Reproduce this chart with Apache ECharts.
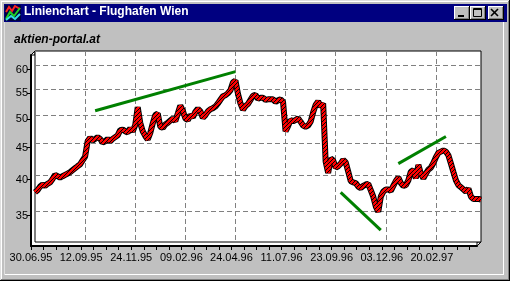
<!DOCTYPE html>
<html><head><meta charset="utf-8">
<script src="https://cdn.jsdelivr.net/npm/echarts@6/dist/echarts.min.js"></script>
<style>html,body{margin:0;padding:0;background:#c0c0c0;overflow:hidden}#chart{width:510px;height:281px}</style>
</head><body><div id="chart"></div>
<script>
// ---- data ----
const tickLabels = ['30.06.95','12.09.95','24.11.95','09.02.96','24.04.96','11.07.96','23.09.96','03.12.96','20.02.97'];
const yTicks = [35, 40, 45, 50, 55, 60];
const yRange = [31.3, 63.35];
const pointsPerTick = 20;
const prices = [
  37.6,37.9,38.4,38.7,38.5,38.8,39.0,39.5,40.1,39.9,
  39.7,39.9,40.1,40.3,40.5,40.8,41.1,41.4,41.7,42.3,
  42.9,45.4,46.0,45.5,45.8,46.1,45.8,45.2,45.4,45.8,
  45.4,45.8,46.1,46.4,47.3,47.4,47.1,46.9,47.6,47.1,
  48.2,51.5,48.6,47.1,46.3,45.7,46.8,48.5,50.0,50.3,
  47.9,47.7,48.3,48.6,49.0,49.4,48.9,50.3,51.8,50.8,
  49.4,49.1,50.0,49.6,50.6,51.2,50.7,49.5,50.0,50.7,
  51.1,51.3,51.6,52.2,52.9,53.6,53.8,54.2,54.8,56.4,
  56.8,54.1,52.2,51.0,51.7,52.1,52.9,53.7,53.9,53.1,
  53.3,53.3,52.9,53.0,53.0,53.0,52.5,52.8,53.0,52.5,
  47.1,48.0,49.1,48.9,49.1,49.4,48.8,48.1,47.9,48.1,
  48.8,50.5,51.9,52.6,51.6,52.2,42.1,40.4,42.6,42.3,
  41.2,41.4,41.8,42.4,42.0,40.6,39.2,39.0,38.9,38.4,
  38.2,38.5,38.7,38.8,37.9,37.0,35.7,35.0,37.0,37.7,
  38.0,38.0,37.8,38.5,39.2,39.7,38.9,38.5,38.6,39.3,
  40.6,40.8,39.6,41.6,40.3,39.6,40.3,40.9,41.2,41.9,
  42.8,43.5,43.7,43.9,43.7,43.1,41.8,40.5,39.3,38.6,
  38.3,38.0,37.7,38.1,37.0,36.7,36.7,36.7,36.6
];
const trendUp1 = [[24, 50.8], [80, 58.7]];
const trendDown = [[122, 37.6], [138, 32.7]];
const trendUp2 = [[145, 41.8], [164, 46.2]];

const categories = prices.map((_, i) => String(i));
const FONT = '"Liberation Sans", Arial, sans-serif';

// red ribbon with black hatching
const hatch = document.createElement('canvas');
hatch.width = 4; hatch.height = 4;
(function () {
  const c = hatch.getContext('2d');
  c.fillStyle = '#ff0000'; c.fillRect(0, 0, 4, 4);
  c.fillStyle = '#000000';
  c.fillRect(3, 0, 1, 1); c.fillRect(2, 1, 1, 1); c.fillRect(1, 2, 1, 1); c.fillRect(0, 3, 1, 1);
})();

// ---- window chrome helpers ----
const ln = (x1, y1, x2, y2, color, w) => ({type:'line', silent:true, shape:{x1, y1, x2, y2}, style:{stroke:color, lineWidth:w || 1}});
function button(x, y, w, h) {
  return [
    {type:'rect', silent:true, shape:{x, y, width:w, height:h}, style:{fill:'#c0c0c0'}},
    ln(x, y + 0.5, x + w - 1, y + 0.5, '#ffffff'),
    ln(x + 0.5, y, x + 0.5, y + h - 1, '#ffffff'),
    ln(x, y + h - 0.5, x + w, y + h - 0.5, '#000000'),
    ln(x + w - 0.5, y, x + w - 0.5, y + h, '#000000'),
    ln(x + 1, y + h - 1.5, x + w - 1, y + h - 1.5, '#808080'),
    ln(x + w - 1.5, y + 1, x + w - 1.5, y + h - 1, '#808080')
  ];
}
const chrome = [].concat(
  [
    ln(0, 0.5, 510, 0.5, '#dfdfdf'), ln(0.5, 0, 0.5, 281, '#dfdfdf'),
    ln(1, 1.5, 508, 1.5, '#ffffff'), ln(1.5, 1, 1.5, 280, '#ffffff'),
    ln(0, 280.5, 510, 280.5, '#000000'), ln(509.5, 0, 509.5, 281, '#000000'),
    ln(1, 279.5, 509, 279.5, '#808080'), ln(508.5, 1, 508.5, 280, '#808080'),
    {type:'rect', silent:true, shape:{x:4, y:4, width:503, height:18}, style:{fill:'#000080'}},
    // icon
    {type:'rect', silent:true, shape:{x:5, y:5, width:16, height:16}, style:{fill:'#000040'}},
    {type:'polyline', silent:true, shape:{points:[[6,12],[9,7],[12,11],[15,6],[20,9]]}, style:{stroke:'#ff2020', lineWidth:2, fill:null}},
    {type:'polyline', silent:true, shape:{points:[[6,19],[10,12],[14,16],[20,8]]}, style:{stroke:'#20d020', lineWidth:2, fill:null}},
    {type:'polyline', silent:true, shape:{points:[[6,20],[11,16],[15,19],[20,14]]}, style:{stroke:'#30e0e0', lineWidth:2, fill:null}},
    ln(4, 274.5, 504, 274.5, '#ffffff'),
    ln(503.5, 22, 503.5, 275, '#ffffff'),
    ln(4.5, 22, 4.5, 275, '#dfdfdf')
  ],
  button(454, 6, 16, 14), button(470, 6, 16, 14), button(488, 6, 16, 14),
  [
    {type:'rect', silent:true, shape:{x:458, y:15, width:6, height:2}, style:{fill:'#000'}},
    {type:'rect', silent:true, shape:{x:473.5, y:8.5, width:8, height:8}, style:{fill:null, stroke:'#000', lineWidth:1}},
    ln(473, 9.5, 482, 9.5, '#000'),
    ln(491, 9, 498, 16, '#000', 1.6), ln(498, 9, 491, 16, '#000', 1.6),
    // 3D corners of the plot box
    {type:'polygon', silent:true, shape:{points:[[31,55],[35,51],[35,55]]}, style:{fill:'#fff', stroke:'#000', lineWidth:1}},
    {type:'polygon', silent:true, shape:{points:[[477,246],[481,242],[477,242]]}, style:{fill:'#fff', stroke:'#000', lineWidth:1}}
  ]
);

const gridLine = {show:true, lineStyle:{color:'#808080', width:1, type:[5,3]}};
const chart = echarts.init(document.getElementById('chart'), null, {renderer:'canvas'});
chart.setOption({
  backgroundColor:'#c0c0c0',
  animation:false,
  textStyle:{fontFamily:FONT},
  title:[
    {text:'Linienchart - Flughafen Wien', left:24, top:6, padding:0,
     textStyle:{color:'#ffffff', fontSize:12, fontWeight:'bold', fontFamily:FONT}},
    {text:'aktien-portal.at', left:14, top:34, padding:0,
     textStyle:{color:'#000000', fontSize:12, fontWeight:'bold', fontStyle:'italic', fontFamily:FONT}}
  ],
  graphic:{elements:chrome},
  grid:[
    {left:35, top:51, width:446, height:191, show:true, backgroundColor:'#ffffff', borderColor:'#000000', borderWidth:1, z:1},
    {left:31, top:55, width:446, height:191, show:true, backgroundColor:'#ffffff', borderWidth:0, z:0}
  ],
  xAxis:[
    {type:'category', gridIndex:0, data:categories, boundaryGap:false,
     axisLine:{show:false}, axisTick:{show:false}, axisLabel:{show:false},
     splitLine:Object.assign({interval:pointsPerTick - 1}, gridLine), z:2},
    {type:'category', gridIndex:1, data:categories, boundaryGap:false,
     axisLine:{show:true, lineStyle:{color:'#000', width:2}},
     axisTick:{show:true, interval:4, length:4, lineStyle:{color:'#000'}},
     axisLabel:{interval:pointsPerTick - 1, color:'#000', fontSize:11, margin:6, fontFamily:FONT,
       formatter:(v, i) => tickLabels[i / pointsPerTick] || ''},
     splitLine:{show:false}, z:4}
  ],
  yAxis:[
    {type:'log', gridIndex:0, min:yRange[0], max:yRange[1],
     axisLine:{show:false}, axisTick:{show:false, customValues:yTicks}, axisLabel:{show:false, customValues:yTicks},
     splitLine:gridLine, z:2},
    {type:'log', gridIndex:1, min:yRange[0], max:yRange[1],
     axisLine:{show:true, lineStyle:{color:'#000', width:2}},
     axisTick:{show:true, length:4, customValues:yTicks, lineStyle:{color:'#000'}},
     axisLabel:{customValues:yTicks, color:'#000', fontSize:11, margin:3, fontFamily:FONT},
     splitLine:{show:false}, z:4}
  ],
  series:[
    {type:'line', xAxisIndex:0, yAxisIndex:0, data:prices, symbol:'none', clip:false, silent:true,
     lineStyle:{color:'#000000', width:6}, z:3},
    {type:'line', xAxisIndex:0, yAxisIndex:0, data:prices, symbol:'none', clip:false, silent:true,
     lineStyle:{color:{image:hatch, repeat:'repeat'}, width:4}, z:3},
    {type:'line', xAxisIndex:0, yAxisIndex:0, data:trendUp1, symbol:'none', silent:true,
     lineStyle:{color:'#008000', width:3}, z:3},
    {type:'line', xAxisIndex:0, yAxisIndex:0, data:trendDown, symbol:'none', silent:true,
     lineStyle:{color:'#008000', width:3}, z:3},
    {type:'line', xAxisIndex:0, yAxisIndex:0, data:trendUp2, symbol:'none', silent:true,
     lineStyle:{color:'#008000', width:3}, z:3}
  ]
});
</script></body></html>
